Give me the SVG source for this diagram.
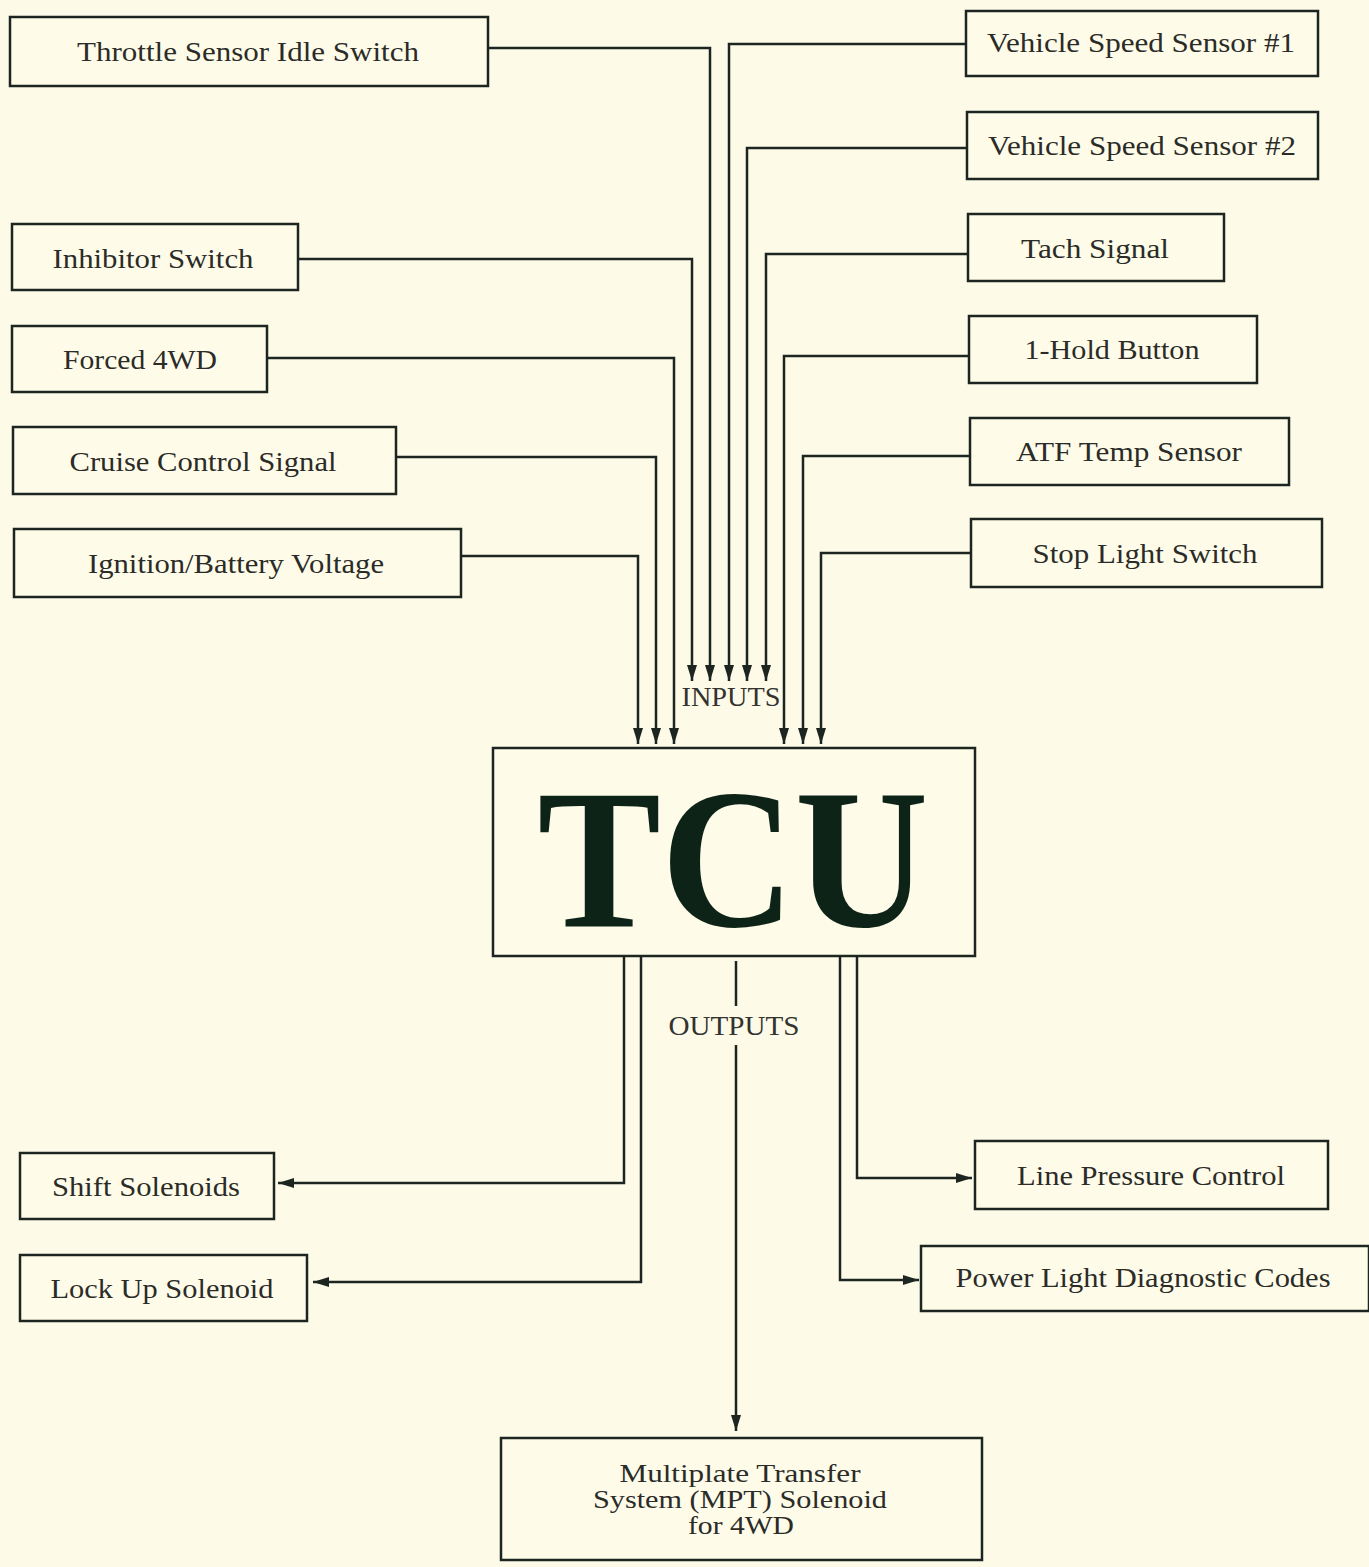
<svg xmlns="http://www.w3.org/2000/svg" width="1369" height="1567" viewBox="0 0 1369 1567">
<style>
.bg{fill:#fdfbe8}
.box{fill:#fefce9;stroke:#1d2520;stroke-width:2.5}
.lbl{font-family:"Liberation Serif","Times New Roman",serif;font-size:27px;fill:#2b2b28;text-anchor:middle}
.sm{font-size:25px}
.cap{font-family:"Liberation Serif","Times New Roman",serif;font-size:28px;fill:#333330;text-anchor:middle}
.tcu{font-family:"Liberation Serif","Times New Roman",serif;font-weight:bold;font-size:200px;fill:#0e2318;text-anchor:middle}
.wire{fill:none;stroke:#1d2520;stroke-width:2.5}
</style>
<defs>
<marker id="ah" markerUnits="userSpaceOnUse" markerWidth="16" markerHeight="10" refX="16" refY="5" orient="auto">
<path d="M0,0 L16,5 L0,10 Z" fill="#1d2520"/>
</marker>
</defs>
<rect class="bg" x="0" y="0" width="1369" height="1567"/>

<g id="connectors">
<path class="wire" marker-end="url(#ah)" d="M488,48 H710 V681"/>
<path class="wire" marker-end="url(#ah)" d="M298,259 H692 V681"/>
<path class="wire" marker-end="url(#ah)" d="M966,44 H729 V681"/>
<path class="wire" marker-end="url(#ah)" d="M967,148 H747 V681"/>
<path class="wire" marker-end="url(#ah)" d="M968,254 H766 V681"/>
<path class="wire" marker-end="url(#ah)" d="M267,358 H674 V744"/>
<path class="wire" marker-end="url(#ah)" d="M396,457 H656 V744"/>
<path class="wire" marker-end="url(#ah)" d="M461,556 H638 V744"/>
<path class="wire" marker-end="url(#ah)" d="M969,356 H784 V744"/>
<path class="wire" marker-end="url(#ah)" d="M970,456 H803 V744"/>
<path class="wire" marker-end="url(#ah)" d="M971,553 H821 V744"/>
<path class="wire" marker-end="url(#ah)" d="M624,957 V1183 H278"/>
<path class="wire" marker-end="url(#ah)" d="M641,957 V1282 H313"/>
<path class="wire" d="M736,961 V1006"/>
<path class="wire" marker-end="url(#ah)" d="M736,1045 V1431"/>
<path class="wire" marker-end="url(#ah)" d="M857,955 V1178 H972"/>
<path class="wire" marker-end="url(#ah)" d="M840,955 V1280 H919"/>
</g>

<text class="cap" x="731" y="706" textLength="99" lengthAdjust="spacingAndGlyphs">INPUTS</text>
<text class="cap" x="734" y="1035" textLength="131" lengthAdjust="spacingAndGlyphs">OUTPUTS</text>

<g id="throttle"><rect class="box" x="10" y="17" width="478" height="69"/><text class="lbl" x="248" y="61" textLength="342" lengthAdjust="spacingAndGlyphs">Throttle Sensor Idle Switch</text></g>
<g id="inhibitor"><rect class="box" x="12" y="224" width="286" height="66"/><text class="lbl" x="153" y="268" textLength="201" lengthAdjust="spacingAndGlyphs">Inhibitor Switch</text></g>
<g id="forced4wd"><rect class="box" x="12" y="326" width="255" height="66"/><text class="lbl" x="140" y="369" textLength="154" lengthAdjust="spacingAndGlyphs">Forced 4WD</text></g>
<g id="cruise"><rect class="box" x="13" y="427" width="383" height="67"/><text class="lbl" x="203" y="471" textLength="267" lengthAdjust="spacingAndGlyphs">Cruise Control Signal</text></g>
<g id="ignition"><rect class="box" x="14" y="529" width="447" height="68"/><text class="lbl" x="236" y="573" textLength="296" lengthAdjust="spacingAndGlyphs">Ignition/Battery Voltage</text></g>

<g id="vss1"><rect class="box" x="966" y="11" width="352" height="65"/><text class="lbl" x="1141" y="52" textLength="308" lengthAdjust="spacingAndGlyphs">Vehicle Speed Sensor #1</text></g>
<g id="vss2"><rect class="box" x="967" y="112" width="351" height="67"/><text class="lbl" x="1142" y="155" textLength="308" lengthAdjust="spacingAndGlyphs">Vehicle Speed Sensor #2</text></g>
<g id="tach"><rect class="box" x="968" y="214" width="256" height="67"/><text class="lbl" x="1095" y="258" textLength="148" lengthAdjust="spacingAndGlyphs">Tach Signal</text></g>
<g id="hold"><rect class="box" x="969" y="316" width="288" height="67"/><text class="lbl" x="1112" y="359" textLength="175" lengthAdjust="spacingAndGlyphs">1-Hold Button</text></g>
<g id="atf"><rect class="box" x="970" y="418" width="319" height="67"/><text class="lbl" x="1129" y="461" textLength="226" lengthAdjust="spacingAndGlyphs">ATF Temp Sensor</text></g>
<g id="stoplight"><rect class="box" x="971" y="519" width="351" height="68"/><text class="lbl" x="1145" y="563" textLength="225" lengthAdjust="spacingAndGlyphs">Stop Light Switch</text></g>

<g id="tcu"><rect class="box" x="493" y="748" width="482" height="208"/><text class="tcu" x="733" y="926" textLength="391" lengthAdjust="spacingAndGlyphs">TCU</text></g>

<g id="shift"><rect class="box" x="20" y="1153" width="254" height="66"/><text class="lbl" x="146" y="1196" textLength="188" lengthAdjust="spacingAndGlyphs">Shift Solenoids</text></g>
<g id="lockup"><rect class="box" x="20" y="1255" width="287" height="66"/><text class="lbl" x="162" y="1298" textLength="223" lengthAdjust="spacingAndGlyphs">Lock Up Solenoid</text></g>
<g id="linepressure"><rect class="box" x="975" y="1141" width="353" height="68"/><text class="lbl" x="1151" y="1185" textLength="268" lengthAdjust="spacingAndGlyphs">Line Pressure Control</text></g>
<g id="powerlight"><rect class="box" x="921" y="1246" width="448" height="65"/><text class="lbl" x="1143" y="1287" textLength="375" lengthAdjust="spacingAndGlyphs">Power Light Diagnostic Codes</text></g>
<g id="mpt"><rect class="box" x="501" y="1438" width="481" height="122"/>
<text class="lbl sm" x="740" y="1482" textLength="241" lengthAdjust="spacingAndGlyphs">Multiplate Transfer</text>
<text class="lbl sm" x="740" y="1508" textLength="294" lengthAdjust="spacingAndGlyphs">System (MPT) Solenoid</text>
<text class="lbl sm" x="741" y="1534" textLength="106" lengthAdjust="spacingAndGlyphs">for 4WD</text></g>
</svg>
